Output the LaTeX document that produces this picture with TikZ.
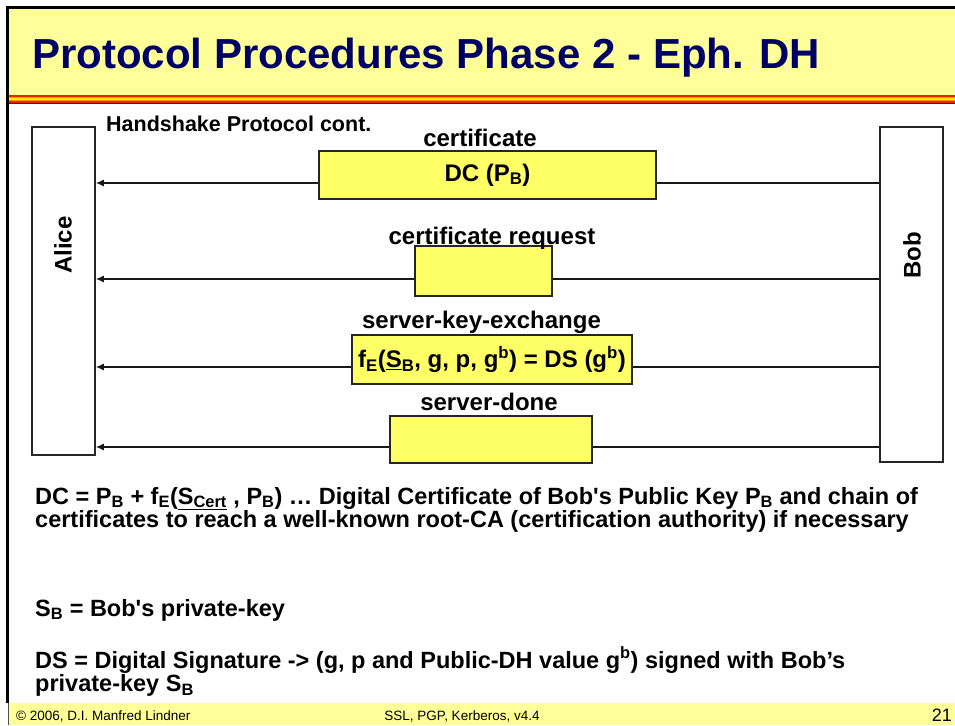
\documentclass[tikz,border=0pt]{standalone}
\usepackage{fontspec}
\setmainfont{Liberation Sans}[Ligatures=TeXOff]
\usetikzlibrary{arrows.meta}

\definecolor{bandyellow}{RGB}{255,255,153}
\definecolor{msgyellow}{RGB}{255,255,102}
\definecolor{titlenavy}{RGB}{0,0,102}
\definecolor{stripeRed}{RGB}{230,40,0}
\definecolor{stripeOrange}{RGB}{255,150,0}
\definecolor{stripeYellow}{RGB}{255,235,0}
\definecolor{stripeDark}{RGB}{150,0,0}

% fixed line spacing, even with sub- and superscripts
\newcommand\tightlines{\lineskiplimit=-100pt\relax}

\tikzset{
  txt/.style={font=\fontsize{23.5}{23.5}\selectfont\bfseries\tightlines,
              inner sep=0pt, align=left},
  lbl/.style={font=\fontsize{24}{24}\selectfont\bfseries, inner sep=0pt, anchor=base},
  actor/.style={draw=black!85, line width=1.5pt, fill=white, inner sep=0pt},
  msgbox/.style={draw=black!85, line width=1.5pt, fill=msgyellow, inner sep=0pt,
                 font=\fontsize{24}{24}\selectfont\bfseries},
  msg/.style={line width=1.5pt, draw=black!90, -{Latex[length=8pt,width=7pt]}},
  foot/.style={font=\fontsize{13.5}{14}\selectfont, inner sep=0pt, anchor=base},
}

\begin{document}
\begin{tikzpicture}[x=1pt,y=-1pt]
\useasboundingbox (0,0) rectangle (955,725);
\fill[white] (0,0) rectangle (955,725);

% title band and coloured stripe
\fill[bandyellow] (9,9) rectangle (955,94.5);
\fill[stripeRed]    (9,94.5)  rectangle (955,96.5);
\fill[stripeOrange] (9,96.5)  rectangle (955,98);
\fill[stripeYellow] (9,98)    rectangle (955,99.5);
\fill[stripeOrange] (9,99.5)  rectangle (955,101);
\fill[stripeRed]    (9,101)   rectangle (955,102.5);
\fill[stripeDark]   (9,102.5) rectangle (955,104);

% footer band
\fill[bandyellow] (8,703) rectangle (955,725);
\draw[black!70, line width=1pt] (8.5,703) -- (8.5,725);

% slide frame
\draw[line width=3pt] (7.5,703) -- (7.5,7.5) -- (955,7.5);

\node[anchor=base west, inner sep=0pt, text=titlenavy,
      font=\bfseries\fontsize{42}{42}\selectfont] (title) at (32,68)
  {Protocol Procedures Phase 2 - Eph. DH};

% communicating parties
\node[actor, minimum width=63pt, minimum height=328pt] (alice) at (63.5,291) {};
\node[actor, minimum width=63pt, minimum height=335pt] (bob) at (911.5,294.5) {};
\node[lbl, anchor=center, rotate=90] (alicename) at (63,245) {Alice};
\node[lbl, anchor=center, rotate=90] (bobname) at (912,255) {Bob};

\node[anchor=base west, inner sep=0pt, font=\fontsize{21.5}{22}\selectfont\bfseries]
  (hs) at (106,131) {Handshake Protocol cont.};

% message rows
\coordinate (r1) at (0,183);
\coordinate (r2) at (0,279);
\coordinate (r3) at (0,367);
\coordinate (r4) at (0,447);
\draw[msg] (bob.west |- r1) -- (alice.east |- r1);
\draw[msg] (bob.west |- r2) -- (alice.east |- r2);
\draw[msg] (bob.west |- r3) -- (alice.east |- r3);
\draw[msg] (bob.west |- r4) -- (alice.east |- r4);

\node[msgbox, minimum width=337pt, minimum height=48pt] (cert) at (487.5,175)
  {DC (P\textsubscript{B})};
\node[lbl] (certlbl) at (480,146) {certificate};

\node[msgbox, minimum width=137pt, minimum height=50pt] (certreq) at (483.5,271) {};
\node[lbl] (certreqlbl) at (492,244) {certificate request};

\node[msgbox, minimum width=280pt, minimum height=49pt] (ske) at (492,359.5)
  {f\textsubscript{E}(\underline{S}\textsubscript{B}, g, p, g\textsuperscript{b}) = DS (g\textsuperscript{b})};
\node[lbl] (skelbl) at (481.5,328) {server-key-exchange};

\node[msgbox, minimum width=202pt, minimum height=47pt] (done) at (491,439.5) {};
\node[lbl] (donelbl) at (489,410) {server-done};

% explanations (base anchor = baseline of the last line)
\node[txt, anchor=base west] (dcdef) at (35,527.5)
  {DC = P\textsubscript{B} + f\textsubscript{E}(\underline{S\textsubscript{Cert}} , P\textsubscript{B}) … Digital Certificate of Bob's Public Key P\textsubscript{B} and chain of\\
   certificates to reach a well-known root-CA (certification authority) if necessary};
\node[txt, anchor=base west] (sbdef) at (35,616)
  {S\textsubscript{B} = Bob's private-key};
\node[txt, anchor=base west] (dsdef) at (35,691.5)
  {DS = Digital Signature -> (g, p and Public-DH value g\textsuperscript{b}) signed with Bob’s\\
   private-key S\textsubscript{B}};

% footer texts
\node[foot, anchor=base west] (fl) at (16,720) {© 2006, D.I. Manfred Lindner};
\node[foot] (fc) at (462,720) {SSL, PGP, Kerberos, v4.4};
\node[foot, anchor=base east, font=\fontsize{18}{18}\selectfont] (fr) at (952,721) {21};
\end{tikzpicture}
\end{document}
